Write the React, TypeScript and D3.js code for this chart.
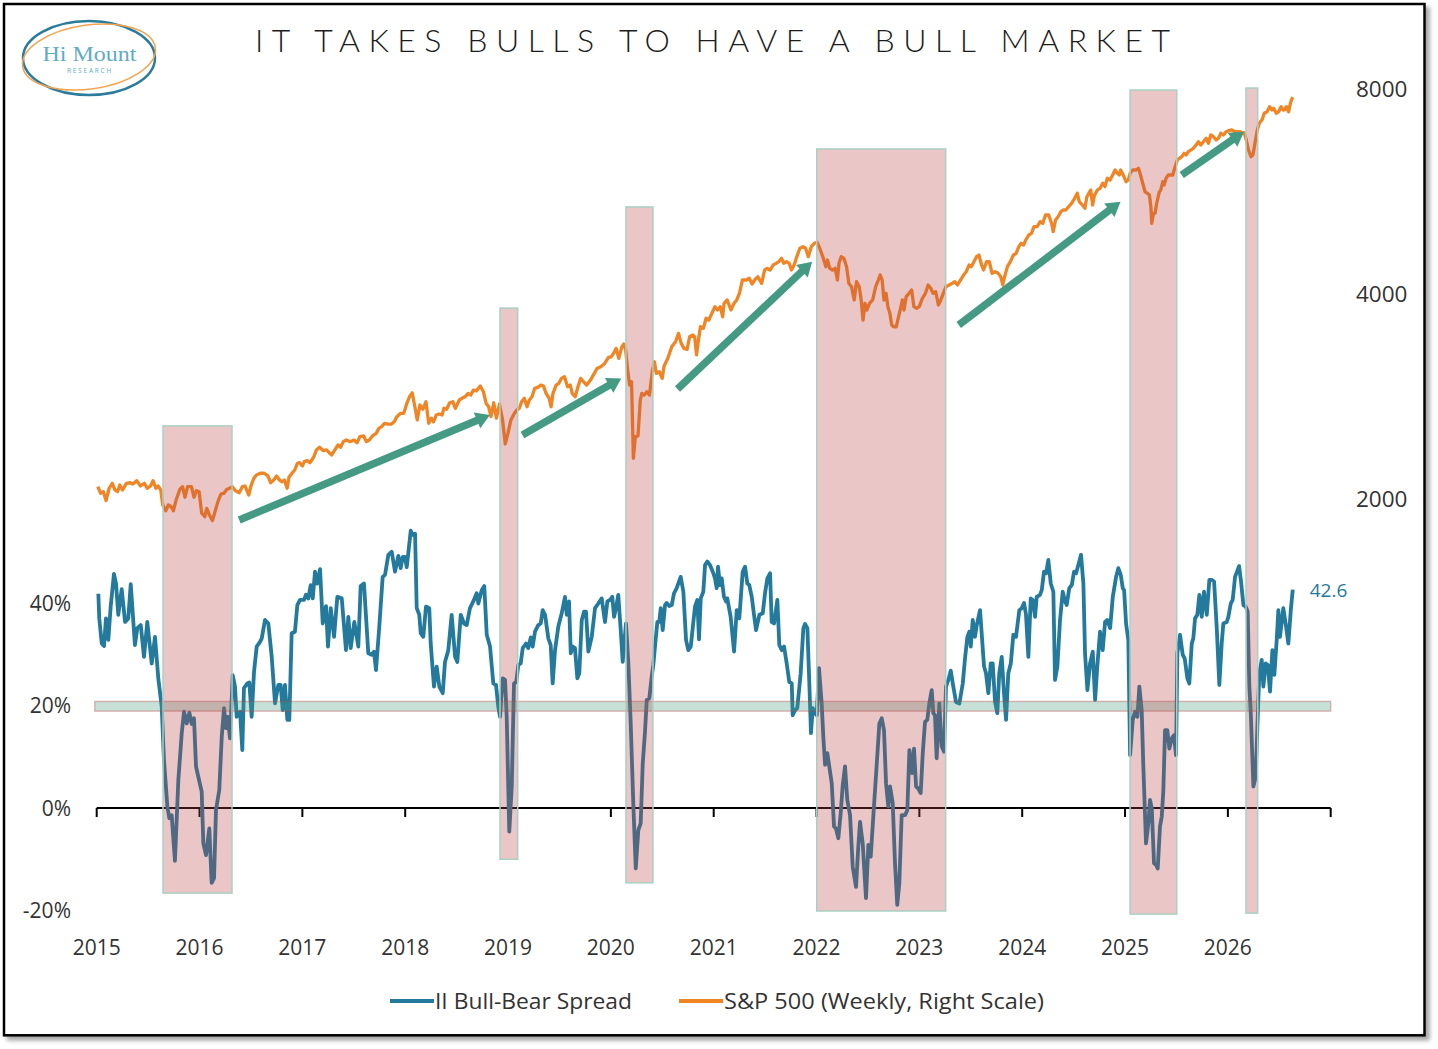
import { useEffect, useRef } from "react";
import * as d3 from "d3";

const YEARS = [2015, 2016, 2017, 2018, 2019, 2020, 2021, 2022, 2023, 2024, 2025, 2026, 2027];
const YEAR_LABELS = ["2015", "2016", "2017", "2018", "2019", "2020", "2021", "2022", "2023", "2024", "2025", "2026"];
const SPREAD_TICKS = [-20, 0, 20, 40];
const SPX_TICKS = [2000, 4000, 8000];

// II bull-bear spread, [decimal year, %]
const SPREAD: [number, number][] = [
  [2015.016, 41.8], [2015.025, 37.0], [2015.049, 32.1], [2015.071, 31.6], [2015.09, 37.0], [2015.113, 32.8],
  [2015.136, 39.3], [2015.168, 45.7], [2015.188, 43.8], [2015.21, 37.7], [2015.243, 42.7], [2015.276, 36.3],
  [2015.307, 37.0], [2015.331, 43.7], [2015.372, 31.8], [2015.395, 35.1], [2015.428, 35.7], [2015.46, 29.5],
  [2015.492, 36.3], [2015.535, 28.2], [2015.567, 33.4], [2015.599, 25.3], [2015.632, 19.8], [2015.654, 9.4],
  [2015.687, 0.3], [2015.706, -2.0], [2015.729, -1.4], [2015.761, -10.3], [2015.794, 5.5], [2015.827, 14.6],
  [2015.849, 18.8], [2015.875, 16.5], [2015.901, 18.6], [2015.924, 16.4], [2015.946, 17.5], [2015.966, 8.1],
  [2015.988, 6.1], [2016.021, 3.2], [2016.037, -6.9], [2016.063, -9.2], [2016.095, -4.0], [2016.118, -14.6],
  [2016.141, -13.7], [2016.16, -0.4], [2016.192, 3.5], [2016.216, 13.9], [2016.238, 19.5], [2016.257, 15.6],
  [2016.274, 17.8], [2016.296, 13.6], [2016.323, 25.9], [2016.345, 23.7], [2016.361, 17.8], [2016.394, 18.8],
  [2016.416, 11.3], [2016.432, 23.4], [2016.465, 24.3], [2016.484, 24.5], [2016.507, 17.8], [2016.53, 26.6],
  [2016.556, 31.5], [2016.588, 32.4], [2016.605, 33.1], [2016.637, 36.7], [2016.669, 36.0], [2016.702, 29.5],
  [2016.734, 20.4], [2016.766, 24.0], [2016.789, 24.0], [2016.809, 19.1], [2016.831, 24.0], [2016.854, 17.2],
  [2016.873, 17.2], [2016.896, 34.1], [2016.928, 34.4], [2016.951, 39.6], [2016.977, 40.6], [2017.016, 40.6],
  [2017.035, 41.6], [2017.058, 40.9], [2017.081, 43.5], [2017.101, 40.9], [2017.123, 46.1], [2017.145, 43.8],
  [2017.172, 46.6], [2017.198, 36.0], [2017.23, 39.4], [2017.249, 31.5], [2017.276, 39.0], [2017.308, 33.4],
  [2017.34, 41.2], [2017.383, 40.9], [2017.424, 30.8], [2017.447, 37.3], [2017.47, 31.2], [2017.505, 36.3],
  [2017.544, 31.5], [2017.567, 43.3], [2017.599, 43.8], [2017.641, 30.2], [2017.674, 29.9], [2017.697, 30.5],
  [2017.716, 26.9], [2017.748, 35.4], [2017.781, 45.1], [2017.804, 45.5], [2017.836, 49.4], [2017.869, 50.0],
  [2017.901, 46.1], [2017.933, 49.2], [2017.956, 46.8], [2017.976, 49.0], [2017.998, 49.0], [2018.015, 47.0],
  [2018.054, 54.1], [2018.073, 53.3], [2018.096, 53.5], [2018.112, 39.0], [2018.137, 37.7], [2018.151, 34.1],
  [2018.176, 33.4], [2018.202, 39.3], [2018.234, 39.0], [2018.248, 32.1], [2018.28, 23.7], [2018.306, 27.6],
  [2018.332, 23.7], [2018.365, 22.4], [2018.387, 28.5], [2018.419, 30.8], [2018.452, 37.7], [2018.485, 29.5],
  [2018.507, 28.5], [2018.54, 37.7], [2018.572, 36.0], [2018.598, 35.7], [2018.63, 39.0], [2018.662, 40.3],
  [2018.695, 41.9], [2018.711, 39.9], [2018.744, 42.5], [2018.769, 43.3], [2018.793, 33.8], [2018.825, 31.5],
  [2018.857, 24.3], [2018.883, 24.0], [2018.905, 19.8], [2018.922, 17.8], [2018.948, 25.3], [2018.971, 25.0],
  [2018.987, 17.8], [2019.012, -4.6], [2019.036, 4.2], [2019.058, 24.3], [2019.08, 24.6], [2019.1, 27.9],
  [2019.123, 28.2], [2019.143, 31.2], [2019.175, 32.1], [2019.197, 31.2], [2019.221, 33.3], [2019.24, 31.5],
  [2019.262, 34.4], [2019.294, 35.7], [2019.318, 36.0], [2019.337, 38.6], [2019.36, 37.7], [2019.392, 33.1],
  [2019.415, 31.8], [2019.434, 24.3], [2019.457, 30.8], [2019.489, 35.4], [2019.522, 38.0], [2019.554, 41.2],
  [2019.571, 37.7], [2019.593, 40.3], [2019.61, 30.2], [2019.629, 31.5], [2019.651, 31.2], [2019.674, 25.3],
  [2019.693, 26.3], [2019.717, 36.7], [2019.739, 38.3], [2019.758, 38.3], [2019.781, 30.5], [2019.814, 33.4],
  [2019.846, 39.0], [2019.878, 39.9], [2019.911, 40.9], [2019.943, 36.3], [2019.966, 40.3], [2019.992, 40.6],
  [2020.014, 41.2], [2020.031, 37.3], [2020.05, 39.0], [2020.072, 41.6], [2020.096, 34.7], [2020.115, 28.5],
  [2020.147, 36.0], [2020.17, 28.2], [2020.193, 16.5], [2020.218, 0.9], [2020.242, -11.8], [2020.267, -4.3],
  [2020.29, -3.0], [2020.31, 8.7], [2020.332, 14.9], [2020.349, 21.1], [2020.374, 21.4], [2020.397, 25.6],
  [2020.413, 27.9], [2020.429, 31.5], [2020.452, 36.3], [2020.471, 36.3], [2020.485, 39.0], [2020.504, 34.7],
  [2020.527, 39.6], [2020.543, 40.0], [2020.568, 39.4], [2020.592, 39.6], [2020.614, 41.9], [2020.64, 42.9],
  [2020.679, 45.1], [2020.705, 42.2], [2020.731, 32.8], [2020.753, 30.8], [2020.777, 31.5], [2020.818, 39.3],
  [2020.841, 40.6], [2020.857, 32.9], [2020.874, 40.9], [2020.899, 42.2], [2020.916, 47.4], [2020.938, 48.1],
  [2020.964, 47.4], [2020.991, 46.1], [2021.013, 44.8], [2021.029, 42.9], [2021.042, 47.1], [2021.061, 43.5],
  [2021.078, 44.8], [2021.1, 41.2], [2021.12, 40.3], [2021.132, 40.9], [2021.165, 37.3], [2021.198, 30.5],
  [2021.224, 38.6], [2021.249, 37.0], [2021.282, 46.1], [2021.305, 47.1], [2021.327, 43.8], [2021.346, 43.5],
  [2021.37, 41.2], [2021.392, 37.7], [2021.412, 34.7], [2021.444, 37.7], [2021.477, 38.0], [2021.499, 41.9],
  [2021.522, 44.8], [2021.548, 45.8], [2021.564, 36.3], [2021.587, 36.0], [2021.619, 40.6], [2021.638, 31.8],
  [2021.662, 30.8], [2021.684, 31.5], [2021.71, 28.2], [2021.735, 24.6], [2021.759, 24.3], [2021.768, 18.1],
  [2021.791, 19.1], [2021.813, 19.5], [2021.846, 26.3], [2021.872, 35.1], [2021.888, 35.9], [2021.911, 35.1],
  [2021.93, 24.3], [2021.946, 14.6], [2021.963, 19.5], [2021.985, 18.5], [2022.002, 18.1], [2022.024, 27.3],
  [2022.05, 20.4], [2022.066, 13.9], [2022.083, 8.4], [2022.105, 10.7], [2022.124, 8.1], [2022.148, 4.8],
  [2022.17, -3.6], [2022.189, -4.0], [2022.212, -5.9], [2022.235, -1.0], [2022.255, 4.5], [2022.277, 8.1],
  [2022.299, 1.6], [2022.326, -1.4], [2022.352, -11.5], [2022.384, -15.4], [2022.406, -7.6], [2022.423, -2.7],
  [2022.449, -6.9], [2022.481, -17.6], [2022.504, -7.2], [2022.527, -9.5], [2022.552, -1.7], [2022.585, 8.4],
  [2022.611, 16.5], [2022.634, 17.5], [2022.656, 15.2], [2022.676, 4.8], [2022.698, 0.3], [2022.715, 4.2],
  [2022.741, 0.9], [2022.763, -10.8], [2022.785, -18.9], [2022.805, -14.7], [2022.828, -1.4], [2022.861, -1.4],
  [2022.883, -0.4], [2022.903, 11.3], [2022.929, 6.8], [2022.948, 11.6], [2022.968, 4.2], [2022.99, 3.8],
  [2023.013, 2.9], [2023.033, 10.7], [2023.055, 16.8], [2023.077, 17.2], [2023.097, 20.4], [2023.12, 23.0],
  [2023.136, 18.5], [2023.152, 18.1], [2023.168, 9.7], [2023.194, 20.4], [2023.217, 12.0], [2023.24, 11.0],
  [2023.259, 23.7], [2023.282, 25.0], [2023.305, 26.8], [2023.33, 23.7], [2023.356, 20.7], [2023.389, 20.4],
  [2023.422, 24.3], [2023.444, 29.2], [2023.467, 33.4], [2023.486, 34.4], [2023.5, 31.5], [2023.519, 36.7],
  [2023.541, 33.4], [2023.558, 35.7], [2023.59, 38.6], [2023.629, 27.6], [2023.648, 26.3], [2023.671, 22.4],
  [2023.694, 28.2], [2023.713, 28.2], [2023.736, 20.7], [2023.758, 18.5], [2023.777, 26.3], [2023.801, 29.5],
  [2023.823, 22.4], [2023.843, 17.2], [2023.865, 26.3], [2023.889, 28.2], [2023.914, 33.8], [2023.94, 33.4],
  [2023.972, 38.6], [2023.996, 39.0], [2024.018, 40.0], [2024.037, 37.7], [2024.06, 29.5], [2024.083, 40.9],
  [2024.102, 40.6], [2024.125, 37.3], [2024.141, 41.2], [2024.173, 41.6], [2024.19, 42.5], [2024.212, 46.1],
  [2024.232, 45.8], [2024.254, 48.4], [2024.278, 43.8], [2024.303, 42.2], [2024.319, 25.0], [2024.342, 27.6],
  [2024.368, 36.7], [2024.394, 42.2], [2024.417, 40.3], [2024.433, 39.6], [2024.458, 42.9], [2024.482, 43.5],
  [2024.504, 46.1], [2024.524, 45.8], [2024.546, 47.4], [2024.572, 49.4], [2024.595, 43.8], [2024.611, 30.2],
  [2024.634, 23.0], [2024.66, 28.2], [2024.686, 30.5], [2024.709, 21.1], [2024.731, 27.9], [2024.757, 34.4],
  [2024.783, 30.8], [2024.806, 36.3], [2024.828, 36.7], [2024.855, 35.1], [2024.881, 41.2], [2024.913, 45.1],
  [2024.935, 46.8], [2024.958, 45.5], [2024.978, 42.9], [2024.991, 42.5], [2025.01, 36.0], [2025.032, 32.8],
  [2025.049, 10.3], [2025.075, 17.2], [2025.097, 18.8], [2025.12, 17.8], [2025.139, 23.7], [2025.162, 19.1],
  [2025.178, 8.1], [2025.204, -6.9], [2025.227, -3.0], [2025.243, 1.6], [2025.26, -0.1], [2025.282, -10.8],
  [2025.302, -11.1], [2025.318, -11.8], [2025.34, -3.6], [2025.357, -1.7], [2025.372, 3.2], [2025.389, 15.2],
  [2025.411, 15.2], [2025.431, 11.6], [2025.454, 13.6], [2025.476, 14.2], [2025.496, 10.3], [2025.509, 30.2],
  [2025.535, 33.8], [2025.561, 29.9], [2025.58, 29.2], [2025.606, 25.3], [2025.625, 24.3], [2025.649, 32.1],
  [2025.664, 33.1], [2025.681, 37.0], [2025.703, 37.7], [2025.723, 41.6], [2025.746, 37.3], [2025.768, 42.2],
  [2025.795, 37.7], [2025.82, 44.5], [2025.843, 44.5], [2025.866, 44.2], [2025.892, 35.1], [2025.917, 24.0],
  [2025.94, 32.1], [2025.956, 36.0], [2025.989, 36.3], [2026.005, 37.3], [2026.028, 39.9], [2026.047, 40.6],
  [2026.07, 45.1], [2026.109, 47.2], [2026.128, 44.2], [2026.151, 39.6], [2026.174, 39.3], [2026.193, 38.3],
  [2026.209, 23.7], [2026.223, 18.5], [2026.248, 4.2], [2026.271, 6.1], [2026.287, 15.9], [2026.306, 26.3],
  [2026.329, 28.9], [2026.345, 23.7], [2026.368, 28.2], [2026.388, 27.9], [2026.41, 22.7], [2026.433, 30.8],
  [2026.452, 26.0], [2026.475, 32.8], [2026.491, 38.6], [2026.507, 33.4], [2026.539, 39.0], [2026.566, 35.4],
  [2026.588, 32.1], [2026.612, 38.6], [2026.631, 42.6],
];

// S&P 500 weekly close, [decimal year, index]
const SPX: [number, number][] = [
  [2015.01, 2085], [2015.039, 2039], [2015.065, 2050], [2015.091, 1989], [2015.121, 2074], [2015.151, 2109],
  [2015.177, 2062], [2015.203, 2050], [2015.225, 2097], [2015.251, 2062], [2015.289, 2109], [2015.326, 2113],
  [2015.352, 2104], [2015.389, 2128], [2015.426, 2090], [2015.463, 2109], [2015.493, 2074], [2015.523, 2090],
  [2015.548, 2128], [2015.575, 2074], [2015.597, 2090], [2015.623, 2062], [2015.642, 1960], [2015.672, 1922],
  [2015.697, 1960], [2015.724, 1949], [2015.746, 1922], [2015.772, 1993], [2015.809, 2067], [2015.835, 2085],
  [2015.858, 2012], [2015.884, 2085], [2015.921, 2085], [2015.947, 2012], [2015.97, 2057], [2015.996, 2050],
  [2016.021, 1906], [2016.051, 1884], [2016.07, 1938], [2016.096, 1895], [2016.126, 1859], [2016.155, 1927],
  [2016.182, 1989], [2016.208, 2034], [2016.237, 2039], [2016.267, 2067], [2016.293, 2074], [2016.32, 2085],
  [2016.349, 2057], [2016.386, 2043], [2016.416, 2085], [2016.442, 2090], [2016.479, 2027], [2016.498, 2085],
  [2016.528, 2145], [2016.554, 2169], [2016.591, 2182], [2016.628, 2182], [2016.665, 2162], [2016.691, 2113],
  [2016.721, 2133], [2016.75, 2162], [2016.777, 2133], [2016.803, 2120], [2016.825, 2133], [2016.852, 2074],
  [2016.87, 2152], [2016.899, 2182], [2016.926, 2206], [2016.952, 2257], [2016.974, 2261], [2017.0, 2236],
  [2017.019, 2269], [2017.049, 2277], [2017.074, 2261], [2017.112, 2307], [2017.137, 2361], [2017.167, 2382],
  [2017.205, 2355], [2017.235, 2361], [2017.261, 2339], [2017.286, 2321], [2017.316, 2361], [2017.347, 2401],
  [2017.372, 2382], [2017.398, 2428], [2017.428, 2442], [2017.465, 2428], [2017.502, 2442], [2017.532, 2419],
  [2017.559, 2469], [2017.596, 2475], [2017.622, 2428], [2017.651, 2442], [2017.681, 2475], [2017.718, 2497],
  [2017.744, 2540], [2017.771, 2554], [2017.8, 2583], [2017.83, 2577], [2017.867, 2577], [2017.893, 2597],
  [2017.919, 2642], [2017.956, 2672], [2017.986, 2672], [2018.016, 2763], [2018.042, 2826], [2018.068, 2864],
  [2018.091, 2748], [2018.117, 2613], [2018.143, 2748], [2018.172, 2709], [2018.202, 2779], [2018.229, 2583],
  [2018.254, 2628], [2018.276, 2597], [2018.303, 2657], [2018.329, 2666], [2018.358, 2657], [2018.377, 2718],
  [2018.403, 2709], [2018.433, 2769], [2018.463, 2779], [2018.488, 2718], [2018.526, 2795], [2018.552, 2811],
  [2018.582, 2826], [2018.612, 2858], [2018.637, 2842], [2018.663, 2890], [2018.693, 2883], [2018.73, 2930],
  [2018.761, 2874], [2018.787, 2763], [2018.812, 2732], [2018.834, 2642], [2018.861, 2769], [2018.887, 2628],
  [2018.917, 2758], [2018.946, 2619], [2018.973, 2409], [2018.999, 2497], [2019.028, 2613], [2019.058, 2666],
  [2019.085, 2702], [2019.11, 2718], [2019.132, 2779], [2019.158, 2811], [2019.185, 2732], [2019.207, 2795],
  [2019.233, 2826], [2019.259, 2907], [2019.289, 2917], [2019.319, 2940], [2019.345, 2930], [2019.37, 2858],
  [2019.4, 2811], [2019.419, 2732], [2019.437, 2858], [2019.468, 2940], [2019.494, 2957], [2019.519, 3007],
  [2019.549, 3023], [2019.579, 2923], [2019.605, 2940], [2019.624, 2858], [2019.653, 2826], [2019.68, 2923],
  [2019.706, 3007], [2019.735, 2973], [2019.765, 2940], [2019.802, 2990], [2019.839, 3058], [2019.865, 3110],
  [2019.902, 3127], [2019.94, 3163], [2019.977, 3228], [2020.003, 3235], [2020.026, 3272], [2020.052, 3328],
  [2020.077, 3218], [2020.107, 3346], [2020.126, 3377], [2020.144, 3309], [2020.163, 3093], [2020.182, 2940],
  [2020.201, 2973], [2020.219, 2295], [2020.238, 2469], [2020.264, 2475], [2020.286, 2795], [2020.301, 2858],
  [2020.323, 2842], [2020.35, 2874], [2020.375, 2842], [2020.387, 2940], [2020.405, 3093], [2020.424, 3181],
  [2020.442, 3058], [2020.472, 3075], [2020.499, 3007], [2020.517, 3134], [2020.554, 3218], [2020.592, 3346],
  [2020.629, 3403], [2020.658, 3501], [2020.684, 3385], [2020.711, 3328], [2020.741, 3317], [2020.766, 3462],
  [2020.796, 3482], [2020.815, 3462], [2020.833, 3255], [2020.852, 3424], [2020.871, 3581], [2020.9, 3562],
  [2020.926, 3685], [2020.953, 3663], [2020.982, 3747], [2021.012, 3832], [2021.038, 3789], [2021.064, 3832],
  [2021.087, 3704], [2021.101, 3876], [2021.131, 3920], [2021.168, 3789], [2021.198, 3876], [2021.224, 3920],
  [2021.25, 4009], [2021.28, 4194], [2021.317, 4194], [2021.346, 4218], [2021.373, 4138], [2021.399, 4194],
  [2021.429, 4241], [2021.466, 4147], [2021.495, 4338], [2021.521, 4363], [2021.548, 4338], [2021.578, 4412],
  [2021.607, 4437], [2021.633, 4462], [2021.66, 4513], [2021.682, 4437], [2021.708, 4462], [2021.734, 4437],
  [2021.756, 4338], [2021.782, 4412], [2021.808, 4538], [2021.838, 4669], [2021.868, 4694], [2021.894, 4669],
  [2021.92, 4538], [2021.949, 4694], [2021.979, 4748], [2022.006, 4764], [2022.031, 4669], [2022.061, 4538],
  [2022.091, 4387], [2022.106, 4487], [2022.128, 4363], [2022.155, 4338], [2022.181, 4363], [2022.203, 4194],
  [2022.218, 4437], [2022.24, 4538], [2022.266, 4513], [2022.292, 4387], [2022.314, 4147], [2022.34, 4100],
  [2022.366, 3920], [2022.389, 4170], [2022.415, 4100], [2022.434, 3920], [2022.452, 3663], [2022.471, 3876],
  [2022.489, 3789], [2022.515, 3876], [2022.546, 3920], [2022.575, 4100], [2022.601, 4194], [2022.619, 4265],
  [2022.638, 4194], [2022.656, 3920], [2022.676, 4009], [2022.694, 3832], [2022.713, 3747], [2022.731, 3602],
  [2022.75, 3581], [2022.776, 3581], [2022.798, 3704], [2022.813, 3789], [2022.835, 3920], [2022.85, 3789],
  [2022.872, 3964], [2022.899, 4009], [2022.925, 4055], [2022.947, 3832], [2022.973, 3811], [2022.999, 3832],
  [2023.029, 3942], [2023.059, 4009], [2023.085, 4124], [2023.111, 4078], [2023.133, 4009], [2023.159, 4031],
  [2023.185, 3854], [2023.208, 3920], [2023.233, 4009], [2023.259, 4100], [2023.289, 4124], [2023.32, 4147],
  [2023.345, 4170], [2023.371, 4124], [2023.401, 4194], [2023.43, 4265], [2023.456, 4313], [2023.483, 4412],
  [2023.505, 4387], [2023.531, 4462], [2023.556, 4538], [2023.579, 4564], [2023.605, 4412], [2023.624, 4338],
  [2023.654, 4462], [2023.68, 4462], [2023.707, 4290], [2023.736, 4313], [2023.766, 4290], [2023.791, 4241],
  [2023.811, 4124], [2023.829, 4241], [2023.856, 4387], [2023.885, 4462], [2023.915, 4564], [2023.941, 4590],
  [2023.967, 4694], [2023.989, 4748], [2024.015, 4721], [2024.034, 4801], [2024.064, 4883], [2024.09, 4911],
  [2024.115, 5022], [2024.145, 5022], [2024.175, 5108], [2024.2, 5080], [2024.227, 5225], [2024.257, 5225],
  [2024.286, 5080], [2024.302, 4938], [2024.324, 5137], [2024.349, 5195], [2024.376, 5283], [2024.398, 5314],
  [2024.424, 5314], [2024.451, 5373], [2024.48, 5435], [2024.51, 5528], [2024.536, 5622], [2024.555, 5465],
  [2024.585, 5405], [2024.61, 5344], [2024.629, 5558], [2024.648, 5622], [2024.666, 5686], [2024.685, 5405],
  [2024.703, 5590], [2024.733, 5686], [2024.757, 5718], [2024.783, 5816], [2024.805, 5750], [2024.828, 5915],
  [2024.854, 5881], [2024.88, 5981], [2024.903, 6083], [2024.925, 6016], [2024.945, 5981], [2024.958, 6083],
  [2024.983, 5981], [2025.01, 5848], [2025.032, 5881], [2025.049, 6016], [2025.075, 6083], [2025.107, 6083],
  [2025.13, 6119], [2025.146, 6016], [2025.172, 5816], [2025.195, 5653], [2025.217, 5622], [2025.237, 5590],
  [2025.251, 5373], [2025.26, 5080], [2025.276, 5255], [2025.292, 5255], [2025.308, 5435], [2025.334, 5653],
  [2025.348, 5686], [2025.367, 5848], [2025.38, 5783], [2025.399, 5915], [2025.421, 5981], [2025.445, 5981],
  [2025.464, 5981], [2025.487, 6152], [2025.509, 6293], [2025.529, 6329], [2025.552, 6363], [2025.574, 6437],
  [2025.594, 6400], [2025.616, 6472], [2025.64, 6509], [2025.665, 6547], [2025.691, 6620], [2025.714, 6694],
  [2025.737, 6620], [2025.762, 6694], [2025.789, 6772], [2025.811, 6658], [2025.834, 6848], [2025.86, 6809],
  [2025.886, 6733], [2025.909, 6772], [2025.932, 6887], [2025.957, 6848], [2025.984, 6925], [2026.006, 6948],
  [2026.039, 6965], [2026.071, 6925], [2026.094, 6925], [2026.12, 6925], [2026.146, 6887], [2026.159, 6901],
  [2026.179, 6733], [2026.201, 6509], [2026.225, 6363], [2026.244, 6400], [2026.266, 6694], [2026.283, 6925],
  [2026.299, 7083], [2026.315, 7163], [2026.332, 7204], [2026.354, 7369], [2026.381, 7409], [2026.406, 7535],
  [2026.429, 7452], [2026.445, 7495], [2026.471, 7369], [2026.494, 7409], [2026.517, 7535], [2026.537, 7452],
  [2026.55, 7452], [2026.569, 7535], [2026.591, 7409], [2026.608, 7622], [2026.625, 7752], [2026.634, 7779],
];

// shaded episodes: start year, end year, top (S&P scale), bottom (spread %)
const EPISODES: [number, number, number, number][] = [
  [2015.645, 2016.316, 2561, -16.6],
  [2018.922, 2019.094, 3814, -10.0],
  [2020.147, 2020.409, 5369, -14.6],
  [2022.002, 2023.256, 6532, -20.1],
  [2025.049, 2025.503, 7973, -20.7],
  [2026.176, 2026.29, 8027, -20.5],
];

// trend arrows on the S&P scale: from year, from value, to year, to value
const ARROWS: [number, number, number, number][] = [
  [2016.386, 1863, 2018.824, 2657],
  [2019.14, 2483, 2020.101, 3007],
  [2020.648, 2902, 2021.957, 4462],
  [2023.383, 3602, 2024.956, 5465],
  [2025.551, 5981, 2026.157, 6925],
];

const BAND = [18.9, 20.8];
const LAST_LABEL = "42.6";

const BLUE = "#237a9c";
const ORANGE = "#ef8524";
const GREEN = "#449a83";
const FONT = "'Open Sans', 'Noto Sans', sans-serif";

export default function App() {
  const svgRef = useRef<SVGSVGElement>(null);
  const width = 1438;
  const height = 1049;

  useEffect(() => {
    if (!svgRef.current) return;
    const svg = d3.select(svgRef.current);
    svg.selectAll("*").remove();

    const x = d3.scaleLinear().domain([2015, 2027]).range([96.7, 1330.7]);
    const yL = d3.scaleLinear().domain([-20, 40]).range([910.5, 603]);
    const yR = d3.scaleLog().base(2).domain([2000, 8000]).range([499, 89]);

    // frame with shadow
    const defs = svg.append("defs");
    const f = defs.append("filter").attr("id", "shadow").attr("x", "-5%").attr("y", "-5%").attr("width", "110%").attr("height", "110%");
    f.append("feDropShadow").attr("dx", 4).attr("dy", 4).attr("stdDeviation", 2).attr("flood-color", "#000").attr("flood-opacity", 0.35);

    svg.append("rect")
      .attr("x", 4).attr("y", 4).attr("width", 1420.5).attr("height", 1031.3)
      .attr("fill", "#fff").attr("stroke", "#000").attr("stroke-width", 2.5)
      .attr("filter", "url(#shadow)");

    // logo
    const logo = svg.append("g");
    logo.append("ellipse").attr("cx", 89).attr("cy", 58).attr("rx", 66).attr("ry", 37)
      .attr("fill", "none").attr("stroke", "#2b7c9c").attr("stroke-width", 2.5);
    logo.append("ellipse").attr("cx", 89).attr("cy", 57).attr("rx", 67).attr("ry", 32)
      .attr("transform", "rotate(-8 89 57)")
      .attr("fill", "none").attr("stroke", "#f3a450").attr("stroke-width", 1.5);
    logo.append("text").attr("x", 89.5).attr("y", 60.5).attr("text-anchor", "middle")
      .attr("font-family", "'Liberation Serif', 'DejaVu Serif', serif").attr("font-size", 21)
      .attr("textLength", 94).attr("lengthAdjust", "spacingAndGlyphs")
      .attr("fill", "#62abc5").text("Hi Mount");
    logo.append("text").attr("x", 90).attr("y", 72.5).attr("text-anchor", "middle")
      .attr("font-family", FONT).attr("font-size", 6.5).attr("letter-spacing", 1.8)
      .attr("fill", "#62abc5").text("RESEARCH");

    // title
    svg.append("text")
      .attr("x", 712.5).attr("y", 52).attr("text-anchor", "middle")
      .attr("font-family", "Lato, 'Open Sans', sans-serif").attr("font-weight", 300)
      .attr("font-size", 32).attr("fill", "#1c1c1c")
      .attr("textLength", 915).attr("lengthAdjust", "spacing")
      .text("IT TAKES BULLS TO HAVE A BULL MARKET");

    // x axis at 0%
    const axisY = yL(0);
    svg.append("line").attr("x1", x(2015)).attr("x2", x(2027)).attr("y1", axisY).attr("y2", axisY)
      .attr("stroke", "#000").attr("stroke-width", 2);
    svg.selectAll(".xtick").data(YEARS).join("line")
      .attr("x1", (d) => x(d)).attr("x2", (d) => x(d))
      .attr("y1", axisY).attr("y2", axisY + 9)
      .attr("stroke", "#000").attr("stroke-width", 2);
    svg.selectAll(".xlab").data(YEAR_LABELS).join("text")
      .attr("x", (d) => x(+d)).attr("y", 955)
      .attr("text-anchor", "middle").attr("font-family", FONT).attr("font-size", 21)
      .attr("fill", "#333").text((d) => d);

    // left labels
    svg.selectAll(".ylab").data(SPREAD_TICKS).join("text")
      .attr("x", 71).attr("y", (d) => yL(d) + 7.5)
      .attr("text-anchor", "end").attr("font-family", FONT).attr("font-size", 21)
      .attr("fill", "#333").text((d) => `${d}%`);

    // right labels
    svg.selectAll(".rlab").data(SPX_TICKS).join("text")
      .attr("x", 1356).attr("y", (d) => yR(d) + 8)
      .attr("font-family", FONT).attr("font-size", 22.5)
      .attr("fill", "#333").text((d) => `${d}`);

    // series
    const spreadLine = d3.line<[number, number]>().x((d) => x(d[0])).y((d) => yL(d[1]));
    const spxLine = d3.line<[number, number]>().x((d) => x(d[0])).y((d) => yR(d[1]));

    svg.append("path").attr("d", spreadLine(SPREAD)).attr("fill", "none")
      .attr("stroke", BLUE).attr("stroke-width", 3.8).attr("stroke-linejoin", "round");
    svg.append("path").attr("d", spxLine(SPX)).attr("fill", "none")
      .attr("stroke", ORANGE).attr("stroke-width", 3.3).attr("stroke-linejoin", "round");

    // 20% band
    svg.append("rect")
      .attr("x", x(2015) - 2).attr("width", x(2027) - x(2015) + 2)
      .attr("y", yL(BAND[1])).attr("height", yL(BAND[0]) - yL(BAND[1]))
      .attr("fill", "rgb(68,154,130)").attr("fill-opacity", 0.3)
      .attr("stroke", "rgb(185,65,68)").attr("stroke-opacity", 0.35).attr("stroke-width", 1.5);

    // episodes
    svg.selectAll(".ep").data(EPISODES).join("rect")
      .attr("x", (d) => x(d[0])).attr("width", (d) => x(d[1]) - x(d[0]))
      .attr("y", (d) => yR(d[2])).attr("height", (d) => yL(d[3]) - yR(d[2]))
      .attr("fill", "rgb(185,65,68)").attr("fill-opacity", 0.3)
      .attr("stroke", "#a9d0c4").attr("stroke-width", 1.5);

    // arrows
    ARROWS.forEach(([x0, v0, x1, v1]) => {
      const ax = x(x0), ay = yR(v0), bx = x(x1), by = yR(v1);
      const len = Math.hypot(bx - ax, by - ay);
      const ux = (bx - ax) / len, uy = (by - ay) / len;
      const nx = -uy, ny = ux;
      const head = 14, hw = 8.5;
      const cx = bx - ux * head, cy = by - uy * head;
      svg.append("line").attr("x1", ax).attr("y1", ay).attr("x2", cx + ux).attr("y2", cy + uy)
        .attr("stroke", GREEN).attr("stroke-width", 7.5);
      svg.append("path")
        .attr("d", `M${bx},${by}L${cx + nx * hw},${cy + ny * hw}L${cx - nx * hw},${cy - ny * hw}Z`)
        .attr("fill", GREEN);
    });

    // last value label
    const last = SPREAD[SPREAD.length - 1];
    svg.append("text").attr("x", x(last[0]) + 17).attr("y", yL(last[1]) + 7)
      .attr("font-family", FONT).attr("font-size", 19).attr("fill", BLUE).text(LAST_LABEL);

    // legend
    const lg = svg.append("g").attr("font-family", FONT).attr("font-size", 22.5).attr("fill", "#333");
    lg.append("line").attr("x1", 390).attr("x2", 434).attr("y1", 1001).attr("y2", 1001)
      .attr("stroke", BLUE).attr("stroke-width", 4);
    lg.append("text").attr("x", 435).attr("y", 1009)
      .attr("textLength", 197).attr("lengthAdjust", "spacingAndGlyphs").text("II Bull-Bear Spread");
    lg.append("line").attr("x1", 679).attr("x2", 723).attr("y1", 1001).attr("y2", 1001)
      .attr("stroke", ORANGE).attr("stroke-width", 4);
    lg.append("text").attr("x", 724).attr("y", 1009)
      .attr("textLength", 320).attr("lengthAdjust", "spacingAndGlyphs").text("S&P 500 (Weekly, Right Scale)");
  }, []);

  return (
    <div style={{ position: "absolute", left: 0, top: 0, width, height, background: "#fff" }}>
      <svg ref={svgRef} width={width} height={height} style={{ display: "block" }} />
    </div>
  );
}
